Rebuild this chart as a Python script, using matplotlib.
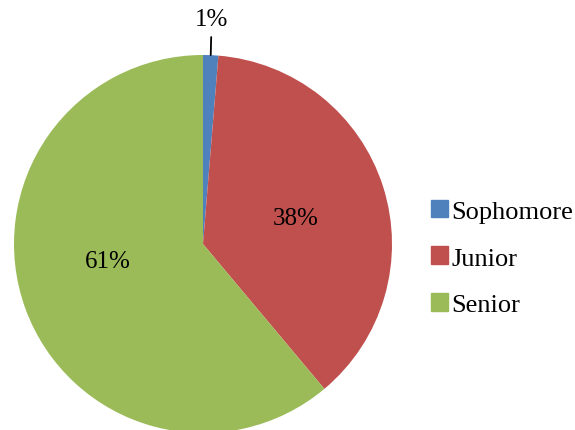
import matplotlib.pyplot as plt
import numpy as np

plt.rcParams['font.family'] = ['Liberation Serif', 'DejaVu Serif']

labels = ['Sophomore', 'Junior', 'Senior']
values = [1.3, 37.6, 61.1]
colors = ['#4f81bd', '#c0504d', '#9bbb59']
# small nudges of the inside labels, in degrees (clockwise)
label_shift = [0, 2, 10]

fig = plt.figure(figsize=(5.75, 4.31), dpi=100)
ax = fig.add_axes([14 / 575, -3 / 431, 378 / 575, 378 / 431])

wedges, _ = ax.pie(values, colors=colors, startangle=90, counterclock=False,
                   radius=1.0)
ax.set_xlim(-1, 1)
ax.set_ylim(-1, 1)
ax.set_aspect('equal')
ax.axis('off')

for w, v, s in zip(wedges, values, label_shift):
    ang = np.deg2rad((w.theta1 + w.theta2) / 2 - s)
    txt = f'{v:.0f}%'
    if v < 5:
        x0, y0 = np.cos(ang), np.sin(ang)
        ax.annotate(txt, xy=(x0, y0), xytext=(x0 + 0.005, 1.19),
                    ha='center', va='center', fontsize=18,
                    arrowprops=dict(arrowstyle='-', color='black', lw=1.3,
                                    shrinkA=3, shrinkB=0),
                    annotation_clip=False)
    else:
        ax.text(0.51 * np.cos(ang), 0.51 * np.sin(ang), txt,
                ha='center', va='center', fontsize=18)

handles = [plt.Rectangle((0, 0), 1, 1, color=c) for c in colors]
fig.legend(handles, labels, loc='center left', bbox_to_anchor=(407 / 575, 1 - 259 / 431),
           frameon=False, fontsize=19, handlelength=0.65, handleheight=0.65,
           handletextpad=0.12, labelspacing=0.9)

fig.savefig('out.png', dpi=100)
